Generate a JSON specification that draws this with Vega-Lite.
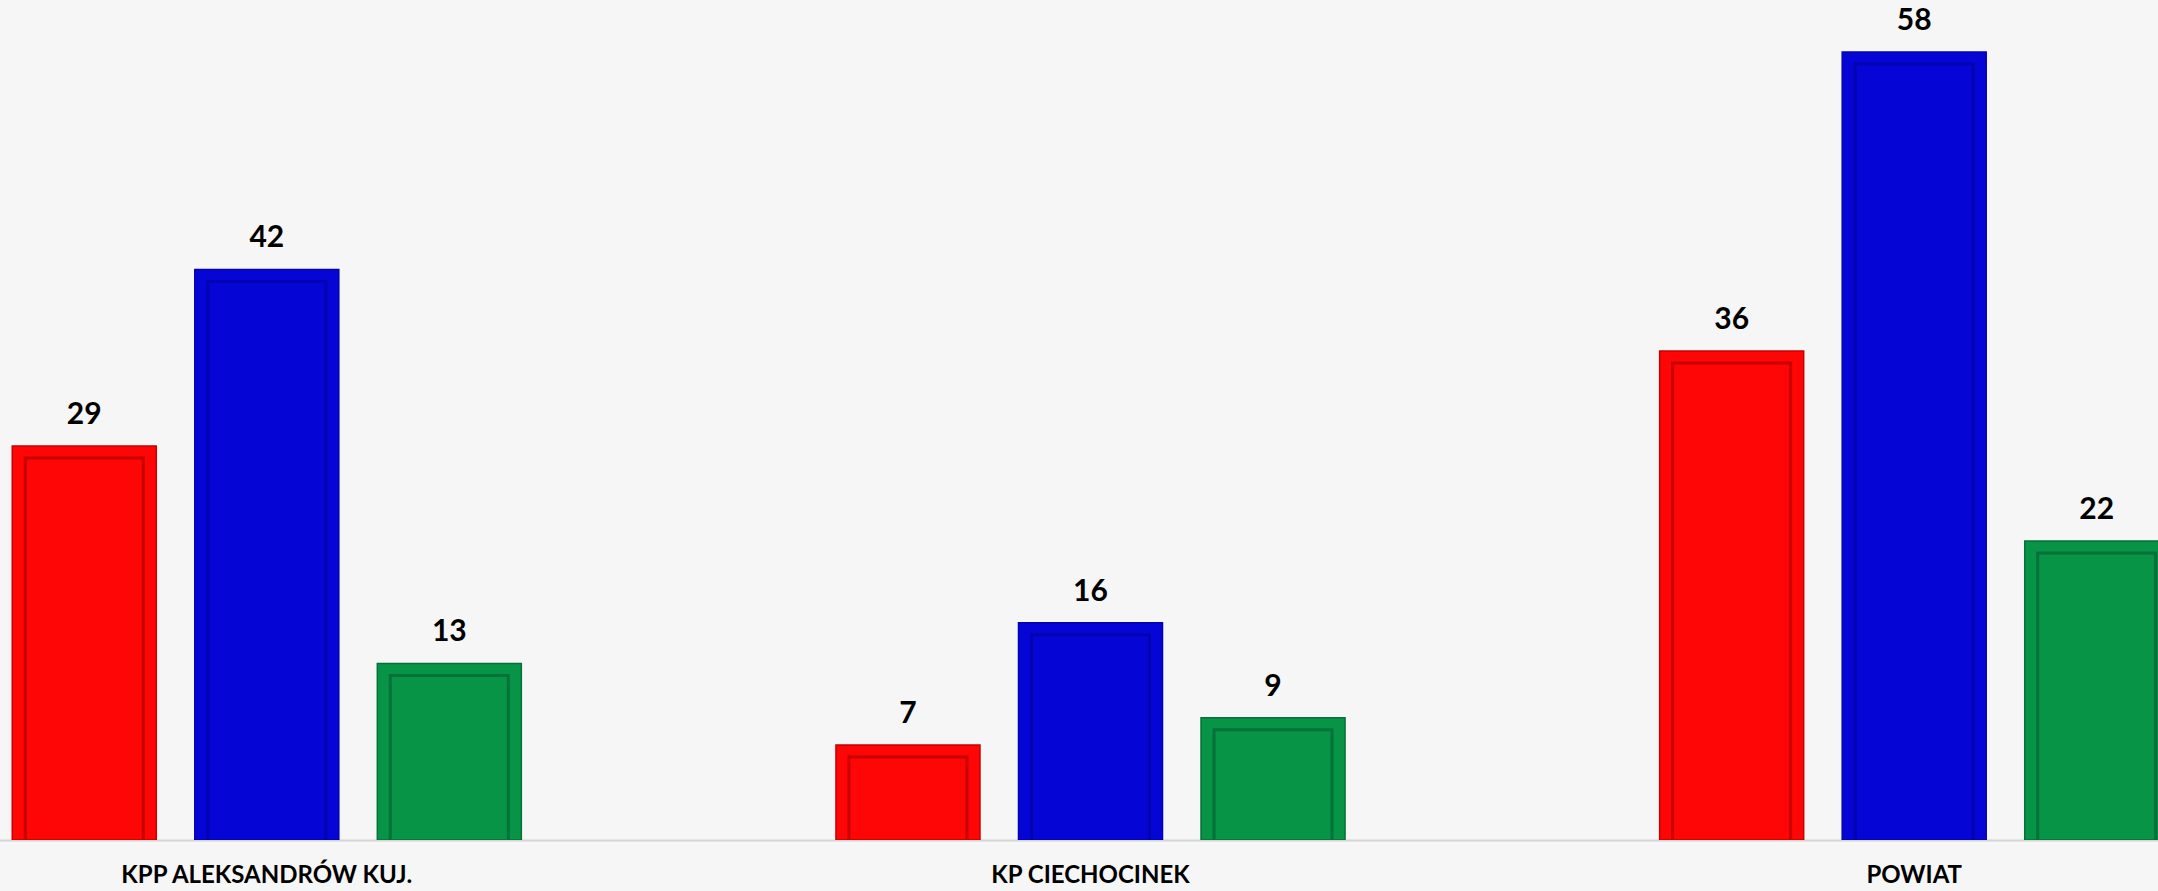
{
  "$schema": "https://vega.github.io/schema/vega-lite/v6.json",
  "width": 2158,
  "height": 840,
  "autosize": "none",
  "padding": {"left": 0, "top": 0, "right": 0, "bottom": 51},
  "background": "#f6f6f6",
  "config": {"view": {"stroke": null}},
  "data": {
    "values": [
      {"jednostka": "KPP ALEKSANDRÓW KUJ.", "seria": "seria 1", "wartosc": 29},
      {"jednostka": "KPP ALEKSANDRÓW KUJ.", "seria": "seria 2", "wartosc": 42},
      {"jednostka": "KPP ALEKSANDRÓW KUJ.", "seria": "seria 3", "wartosc": 13},
      {"jednostka": "KP CIECHOCINEK", "seria": "seria 1", "wartosc": 7},
      {"jednostka": "KP CIECHOCINEK", "seria": "seria 2", "wartosc": 16},
      {"jednostka": "KP CIECHOCINEK", "seria": "seria 3", "wartosc": 9},
      {"jednostka": "POWIAT", "seria": "seria 1", "wartosc": 36},
      {"jednostka": "POWIAT", "seria": "seria 2", "wartosc": 58},
      {"jednostka": "POWIAT", "seria": "seria 3", "wartosc": 22}
    ]
  },
  "encoding": {
    "x": {
      "field": "jednostka",
      "type": "nominal",
      "sort": null,
      "scale": {"range": [-7, 2188], "paddingInner": 0.3352, "paddingOuter": 0},
      "axis": {
        "title": null,
        "domainColor": "#d4d4d4",
        "domainWidth": 2,
        "ticks": false,
        "labelAngle": 0,
        "labelFont": "Lato, sans-serif",
        "labelFontWeight": "bold",
        "labelFontSize": 24,
        "labelColor": "#000000",
        "labelPadding": 23,
        "labelBaseline": "top",
        "labelLimit": 0,
        "labelOverlap": false
      }
    },
    "xOffset": {
      "field": "seria",
      "type": "nominal",
      "scale": {"paddingInner": 0.211, "paddingOuter": 0.1055}
    },
    "y": {
      "field": "wartosc",
      "type": "quantitative",
      "scale": {"domain": [0, 61.83], "nice": false, "zero": true},
      "axis": null
    }
  },
  "layer": [
    {
      "mark": {"type": "bar", "clip": true, "strokeWidth": 1.5},
      "encoding": {
        "fill": {
          "field": "seria",
          "type": "nominal",
          "scale": {"domain": ["seria 1", "seria 2", "seria 3"], "range": ["#ff0606", "#0505d6", "#079446"]},
          "legend": null
        },
        "stroke": {
          "field": "seria",
          "type": "nominal",
          "scale": {"domain": ["seria 1", "seria 2", "seria 3"], "range": ["#c80000", "#0303b0", "#05703a"]},
          "legend": null
        }
      }
    },
    {
      "mark": {"type": "bar", "clip": true, "width": 118, "yOffset": 12, "y2Offset": -12, "fillOpacity": 0, "strokeWidth": 3},
      "encoding": {
        "stroke": {
          "field": "seria",
          "type": "nominal",
          "scale": {"domain": ["seria 1", "seria 2", "seria 3"], "range": ["#a00000", "#0202a0", "#046030"]},
          "legend": null
        }
      }
    },
    {
      "mark": {"type": "text", "clip": false, "baseline": "middle", "align": "center", "dy": -31, "font": "Lato, sans-serif", "fontWeight": "bold", "fontSize": 30, "color": "#000000"},
      "encoding": {
        "text": {"field": "wartosc", "type": "quantitative"}
      }
    }
  ]
}
